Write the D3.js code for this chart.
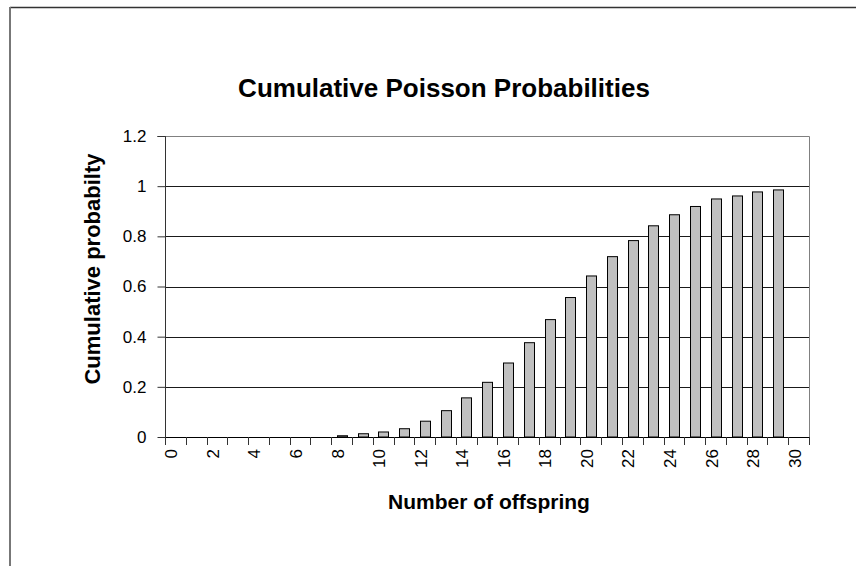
<!DOCTYPE html>
<html>
<head>
<meta charset="utf-8">
<script src="https://cdn.jsdelivr.net/npm/d3@7"></script>
<style>
  html, body { margin: 0; padding: 0; background: #fff; }
  svg { display: block; }
  text { font-family: "Liberation Sans", Arial, sans-serif; fill: #000; }
</style>
</head>
<body>
<svg id="chart" width="856" height="566"></svg>
<script>
// ---- data ----
const categories = [0,1,2,3,4,5,6,7,8,9,10,11,12,13,14,15,16,17,18,19,20,21,22,23,24,25,26,27,28,29,30];
const cumulativeProbability = [0,0,0,0,0,0,0,0,0.005,0.013,0.02,0.033,0.063,0.105,0.156,0.218,0.295,0.376,0.468,0.556,0.642,0.719,0.783,0.842,0.886,0.919,0.949,0.961,0.977,0.985,null];
const yTicks = [0,0.2,0.4,0.6,0.8,1,1.2];
const xTickLabels = [0,2,4,6,8,10,12,14,16,18,20,22,24,26,28,30];
const titleText = "Cumulative Poisson Probabilities";
const xTitle = "Number of offspring";
const yTitle = "Cumulative probabilty";

// ---- layout ----
const svg = d3.select("#chart");
const L = 165, R = 809, T = 136, B = 437;

const x = d3.scaleBand().domain(categories).range([L, R]).paddingInner(0.54).paddingOuter(0.27);
const y = d3.scaleLinear().domain([0, 1.2]).range([B, T]);

// outer chart frame
svg.append("line").attr("x1", 10).attr("x2", 856).attr("y1", 7.5).attr("y2", 7.5)
  .attr("stroke", "#333").attr("stroke-width", 1.5);
svg.append("line").attr("x1", 10).attr("x2", 10).attr("y1", 7).attr("y2", 566)
  .attr("stroke", "#777").attr("stroke-width", 2);

// gridlines
svg.append("g").selectAll("line").data(yTicks.filter(d => d > 0 && d < 1.2)).join("line")
  .attr("x1", L).attr("x2", R)
  .attr("y1", d => Math.round(y(d)) + 0.5).attr("y2", d => Math.round(y(d)) + 0.5)
  .attr("stroke", "#1a1a1a").attr("stroke-width", 1);

// plot border top & right
svg.append("path")
  .attr("d", `M${L},${T + 0.5}H${R + 0.5}V${B}`)
  .attr("fill", "none").attr("stroke", "#808080").attr("stroke-width", 1);

// bars
svg.append("g").selectAll("rect")
  .data(categories.map((c, i) => ({c, v: cumulativeProbability[i]})).filter(d => d.v != null && d.v > 0))
  .join("rect")
  .attr("x", d => Math.round(x(d.c)) + 0.5)
  .attr("y", d => y(d.v))
  .attr("width", Math.round(x.bandwidth()))
  .attr("height", d => Math.max(0.5, B - y(d.v)))
  .attr("fill", "#c0c0c0")
  .attr("stroke", "#000")
  .attr("stroke-width", 1);

// y axis
const yAxis = d3.axisLeft(y).tickValues(yTicks).tickSize(8).tickPadding(11)
  .tickFormat(d => d3.format("")(+d.toFixed(1)));
const gy = svg.append("g").attr("transform", `translate(${L + 0.5},0)`).call(yAxis);
gy.select(".domain").attr("stroke", "#333").attr("d", `M-8,${T + 0.5}H0V${B + 8}`);
gy.selectAll(".tick line").attr("stroke", "#333");
gy.selectAll(".tick text").attr("font-size", 17).attr("font-family", "Liberation Sans, Arial, sans-serif").attr("fill", "#000");

// x axis baseline and ticks at category boundaries
const boundaries = d3.range(categories.length + 1).map(i => L + i * (R - L) / categories.length);
svg.append("line").attr("x1", L).attr("x2", R + 1).attr("y1", B + 0.5).attr("y2", B + 0.5)
  .attr("stroke", "#000").attr("stroke-width", 1.2);
svg.append("g").selectAll("line").data(boundaries).join("line")
  .attr("x1", d => Math.round(d) + 0.5).attr("x2", d => Math.round(d) + 0.5)
  .attr("y1", B).attr("y2", B + 8)
  .attr("stroke", "#333").attr("stroke-width", 1);

// x tick labels (rotated)
svg.append("g").selectAll("text").data(xTickLabels).join("text")
  .attr("transform", d => `translate(${x(d) + x.bandwidth() / 2 + 2},${B + 12}) rotate(-90)`)
  .attr("text-anchor", "end")
  .attr("font-size", 17)
  .text(d => d);

// titles
svg.append("text").attr("x", 444).attr("y", 97).attr("text-anchor", "middle")
  .attr("font-size", 26).attr("font-weight", "bold").text(titleText);
svg.append("text").attr("x", 489).attr("y", 509).attr("text-anchor", "middle")
  .attr("font-size", 21).attr("font-weight", "bold").text(xTitle);
svg.append("text").attr("transform", "translate(100,269) rotate(-90)").attr("text-anchor", "middle")
  .attr("font-size", 22).attr("font-weight", "bold").text(yTitle);
</script>
</body>
</html>
